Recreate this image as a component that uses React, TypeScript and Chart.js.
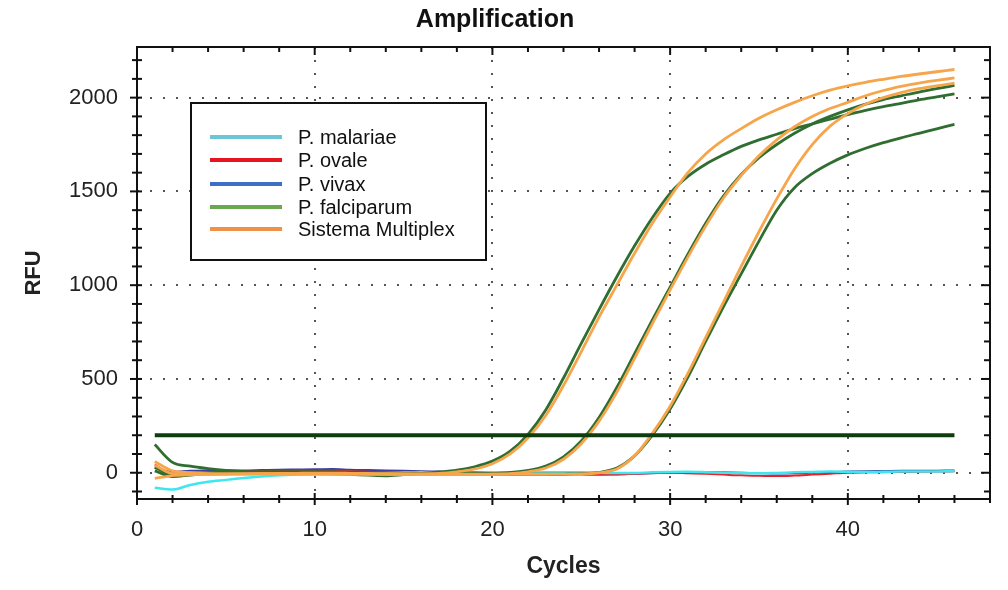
import React, { useEffect, useRef } from "react";
import { Chart, registerables } from "chart.js";

Chart.register(...registerables);

// ---------- data ----------
const cycles = [1, 2, 3, 4, 5, 6, 7, 8, 9, 10, 11, 12, 13, 14, 15, 16, 17, 18, 19, 20, 21, 22, 23, 24, 25, 26, 27, 28, 29, 30, 31, 32, 33, 34, 35, 36, 37, 38, 39, 40, 41, 42, 43, 44, 45, 46];

const malariae = [-80, -90, -65, -48, -38, -28, -20, -14, -10, -7, -5, -4, -2, 0, 2, 3, 2, 0, -2, -3, -2, 0, 2, 3, 2, 0, -2, -1, 2, 4, 5, 3, 0, -2, -3, -1, 2, 4, 6, 5, 4, 5, 6, 6, 7, 8];
const ovale = [45, -15, -8, 0, 5, 6, 8, 10, 12, 10, 12, 8, 5, 2, 0, -2, -3, -5, -6, -8, -9, -10, -10, -9, -8, -10, -8, -5, -2, 0, -3, -6, -10, -14, -16, -18, -15, -10, -5, 0, 2, 3, 4, 5, 6, 8];
const vivax = [25, 5, 10, 12, 13, 12, 14, 16, 17, 18, 20, 16, 14, 12, 10, 8, 6, 4, 2, 0, -2, -4, -5, -6, -8, -10, -9, -6, -3, 0, 2, 4, 2, 0, -2, -4, -3, 0, 3, 6, 8, 9, 10, 10, 11, 12];

const falciparum1 = [150, 55, 35, 22, 12, 6, 2, 0, -2, -4, -6, -9, -13, -16, -10, -3, 4, 14, 32, 62, 115, 205, 335, 505, 690, 870, 1045, 1210, 1360, 1490, 1580, 1645, 1695, 1740, 1775, 1805, 1835, 1860, 1885, 1910, 1932, 1952, 1970, 1988, 2004, 2020];
const falciparum2 = [30, -10, -5, 0, 2, 3, 4, 5, 5, 4, 3, 2, 0, -2, -3, -4, -5, -5, -4, -2, 2, 12, 35, 85, 170, 295, 455, 635, 815, 990, 1165, 1330, 1475, 1590, 1680, 1750, 1810, 1860, 1900, 1935, 1965, 1990, 2010, 2030, 2048, 2065];
const falciparum3 = [10, -20, -12, -5, 0, 3, 4, 5, 5, 5, 4, 3, 2, 0, -2, -3, -4, -5, -6, -7, -8, -8, -8, -7, -5, 2, 25, 90, 200, 340, 510, 700, 885, 1060, 1235, 1400, 1520, 1595, 1650, 1695, 1730, 1760, 1786, 1810, 1834, 1858];

const multiplex1 = [60, 10, 0, -5, -6, -6, -5, -4, -3, -2, -2, -3, -4, -5, -6, -6, -4, 5, 20, 48, 100, 185, 305, 465, 645, 830, 1000, 1170, 1330, 1470, 1600, 1700, 1775, 1835, 1890, 1935, 1975, 2010, 2040, 2063, 2082, 2098, 2113, 2126, 2138, 2150];
const multiplex2 = [40, -5, -8, -8, -7, -6, -5, -5, -5, -5, -5, -6, -7, -8, -8, -9, -10, -10, -10, -8, -5, 5, 25, 72, 155, 275, 430, 610, 795, 975, 1150, 1315, 1465, 1585, 1690, 1775, 1845, 1900, 1942, 1975, 2010, 2038, 2060, 2078, 2092, 2105];
const multiplex3 = [-30, -15, -10, -8, -7, -7, -7, -8, -8, -8, -8, -8, -8, -8, -8, -8, -8, -8, -8, -8, -8, -8, -8, -7, -6, 0, 20, 90, 210, 355, 530, 720, 910, 1100, 1285, 1460, 1620, 1750, 1848, 1915, 1965, 2000, 2027, 2048, 2063, 2077];

const thresholdValue = 200;

const legendLabels = ["P. malariae", "P. ovale", "P. vivax", "P. falciparum", "Sistema Multiplex"];
const legendColors = ["#6cc6d8", "#e8141e", "#3d6fc4", "#6aa84f", "#f0914a"];

const xTickLabels = ["0", "10", "20", "30", "40"];
const yTickLabels = ["0", "500", "1000", "1500", "2000"];
const yTickValues = [-100, 0, 100, 200, 300, 400, 500, 600, 700, 800, 900, 1000, 1100, 1200, 1300, 1400, 1500, 1600, 1700, 1800, 1900, 2000, 2100, 2200];

// ---------- styles ----------
const FONT = 'Arial, "Liberation Sans", sans-serif';
const GREEN = "#2f6e30";
const ORANGE = "#f7a54a";

const toPts = (vals: number[]) => cycles.map((c, i) => ({ x: c, y: vals[i] }));

const framePlugin = {
  id: "frameTicksLegend",
  afterDraw(chart: any) {
    const { ctx, chartArea: a, scales } = chart;
    const xs = scales.x;
    const ys = scales.y;
    ctx.save();
    const line = (x1: number, y1: number, x2: number, y2: number) => {
      ctx.beginPath();
      ctx.moveTo(x1, y1);
      ctx.lineTo(x2, y2);
      ctx.stroke();
    };
    ctx.strokeStyle = "#111";
    ctx.lineWidth = 2;
    ctx.setLineDash([]);
    ctx.strokeRect(a.left, a.top, a.right - a.left, a.bottom - a.top);
    ctx.lineWidth = 2;
    xs.ticks.forEach((t: any) => {
      const x = xs.getPixelForValue(t.value);
      const major = t.value % 10 === 0;
      line(x, a.bottom - (major ? 6 : 4), x, a.bottom + (major ? 6 : 4));
      line(x, a.top, x, a.top + (major ? 8 : 5));
    });
    ys.ticks.forEach((t: any) => {
      const y = ys.getPixelForValue(t.value);
      const major = t.value % 500 === 0;
      line(a.left - (major ? 7 : 5), y, a.left + 5, y);
      line(a.right - (major ? 9 : 6), y, a.right, y);
    });

    // legend box
    const bx = 191, by = 103, bw = 295, bh = 157;
    ctx.fillStyle = "#fff";
    ctx.fillRect(bx, by, bw, bh);
    ctx.lineWidth = 2;
    ctx.strokeStyle = "#111";
    ctx.strokeRect(bx, by, bw, bh);
    const rows = [137, 160, 184, 207, 229];
    ctx.font = `20px ${FONT}`;
    ctx.textBaseline = "middle";
    ctx.textAlign = "left";
    legendLabels.forEach((lab, i) => {
      ctx.strokeStyle = legendColors[i];
      ctx.lineWidth = 4;
      line(210, rows[i], 282, rows[i]);
      ctx.fillStyle = "#111";
      ctx.fillText(lab, 298, rows[i] + 1);
    });
    ctx.restore();
  },
};

export default function App() {
  const canvasRef = useRef<HTMLCanvasElement | null>(null);

  useEffect(() => {
    document.body.style.margin = "0";
    const canvas = canvasRef.current;
    if (!canvas) return;

    const curve = (label: string, vals: number[], color: string, width: number, order: number) => ({
      label,
      data: toPts(vals),
      borderColor: color,
      backgroundColor: color,
      borderWidth: width,
      pointRadius: 0,
      cubicInterpolationMode: "monotone" as const,
      fill: false,
      order,
    });

    const datasets: any[] = [
      {
        label: "Threshold",
        data: cycles.map((c) => ({ x: c, y: thresholdValue })),
        borderColor: "#0e3e0e",
        borderWidth: 4,
        pointRadius: 0,
        fill: false,
        order: 0,
      },
      curve(legendLabels[4], multiplex1, ORANGE, 2.8, 1),
      curve(legendLabels[3], falciparum1, GREEN, 2.8, 2),
      curve(legendLabels[4], multiplex2, ORANGE, 2.8, 1),
      curve(legendLabels[3], falciparum2, GREEN, 2.8, 2),
      curve(legendLabels[4], multiplex3, ORANGE, 2.8, 1),
      curve(legendLabels[3], falciparum3, GREEN, 2.8, 2),
      curve(legendLabels[0], malariae, "#3ee6ef", 2.5, 3),
      curve(legendLabels[1], ovale, "#e8202a", 2, 4),
      curve(legendLabels[2], vivax, "#3a3fa0", 2, 5),
    ];

    const chart = new Chart(canvas, {
      type: "line",
      data: { datasets },
      plugins: [framePlugin],
      options: {
        animation: false,
        responsive: false,
        devicePixelRatio: 1,
        layout: { padding: { left: 0, right: 18, top: 0, bottom: 0 } },
        plugins: {
          legend: { display: false },
          tooltip: { enabled: false },
          title: {
            display: true,
            text: "Amplification",
            color: "#111",
            font: { family: FONT, size: 25, weight: "bold" },
            padding: { top: 5, bottom: 12 },
          },
        },
        scales: {
          x: {
            type: "linear",
            min: 0,
            max: 48,
            afterFit: (s: any) => {
              s.height = 91;
            },
            border: { display: false, dash: [2, 11] },
            grid: {
              drawTicks: false,
              lineWidth: 2,
              color: (c: any) =>
                c.tick && c.tick.value !== 0 && xTickLabels.includes(String(c.tick.value)) ? "#555" : "rgba(0,0,0,0)",
            },
            ticks: {
              stepSize: 2,
              includeBounds: false,
              autoSkip: false,
              maxRotation: 0,
              padding: 18,
              color: "#222",
              font: { family: FONT, size: 22 },
              callback: (v: any) => (xTickLabels.includes(String(v)) ? String(v) : ""),
            },
            title: {
              display: true,
              text: "Cycles",
              color: "#222",
              font: { family: FONT, size: 23, weight: "bold" },
              padding: { top: 0, bottom: 10 },
            },
          },
          y: {
            type: "linear",
            min: -140,
            max: 2270,
            afterBuildTicks: (s: any) => {
              s.ticks = yTickValues.map((v) => ({ value: v }));
            },
            afterFit: (s: any) => {
              s.width = 137;
            },
            border: { display: false, dash: [2, 11] },
            grid: {
              drawTicks: false,
              lineWidth: 2,
              color: (c: any) =>
                c.tick && yTickLabels.includes(String(c.tick.value)) ? "#555" : "rgba(0,0,0,0)",
            },
            ticks: {
              autoSkip: false,
              padding: 19,
              color: "#222",
              font: { family: FONT, size: 22 },
              callback: (v: any) => (yTickLabels.includes(String(v)) ? String(v) : ""),
            },
            title: {
              display: true,
              text: "RFU",
              color: "#222",
              font: { family: FONT, size: 22, weight: "bold" },
              padding: { top: 21, bottom: 0 },
            },
          },
        },
      },
    });

    return () => chart.destroy();
  }, []);

  return (
    <div style={{ width: 1008, height: 590, background: "#fff" }}>
      <canvas ref={canvasRef} width={1008} height={590} />
    </div>
  );
}
